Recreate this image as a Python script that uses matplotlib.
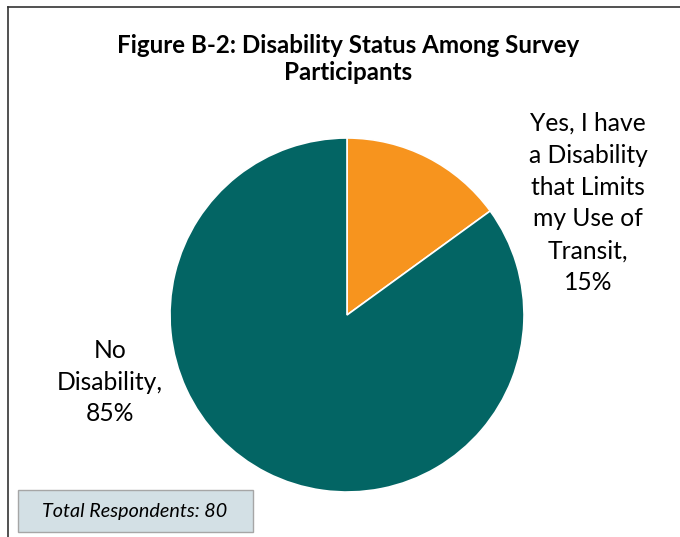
import matplotlib.pyplot as plt
from matplotlib.lines import Line2D
from matplotlib.patches import Rectangle

labels = ['Yes, I have\na Disability\nthat Limits\nmy Use of\nTransit,\n15%', 'No\nDisability,\n85%']
shares = [15, 85]
colors = ['#F7941E', '#036564']
title = 'Figure B-2: Disability Status Among Survey\nParticipants'
note = 'Total Respondents: 80'

W, H = 680, 537
plt.rcParams['font.family'] = ['Lato', 'DejaVu Sans']

fig = plt.figure(figsize=(W / 100, H / 100), dpi=100)

# pie axes placed in pixel terms: centre (347, 315), radius 177
cx, cy, r = 347, 315, 177
ax = fig.add_axes([(cx - r) / W, (H - cy - r) / H, 2 * r / W, 2 * r / H])
ax.pie(shares, colors=colors, startangle=90, counterclock=False, radius=1,
       wedgeprops=dict(linewidth=1.2, edgecolor='white'))
ax.set_xlim(-1, 1)
ax.set_ylim(-1, 1)
ax.set_aspect('equal')
ax.axis('off')

# slice labels
fig.text(588 / W, 1 - 203 / H, labels[0], ha='center', va='center',
         fontsize=17.7, linespacing=1.47)
fig.text(110 / W, 1 - 382 / H, labels[1], ha='center', va='center',
         fontsize=17.7, linespacing=1.45)

fig.text(348 / W, 1 - 59 / H, title, ha='center', va='center',
         fontsize=17.4, fontweight='bold', linespacing=1.2)

# frame lines (top and left only)
fig.add_artist(Line2D([8 / W, 1], [1 - 7 / H, 1 - 7 / H], color='#333333', lw=1.2))
fig.add_artist(Line2D([8 / W, 8 / W], [0, 1 - 7 / H], color='#333333', lw=1.2))

# respondents box
fig.add_artist(Rectangle((18 / W, 1 - 532 / H), 235 / W, 42 / H,
                         facecolor='#D3E0E5', edgecolor='#A6A6A6', lw=1))
fig.text(135 / W, 1 - 511 / H, note, ha='center', va='center',
         fontsize=14.2, style='italic')

fig.savefig('out.png', dpi=100)
